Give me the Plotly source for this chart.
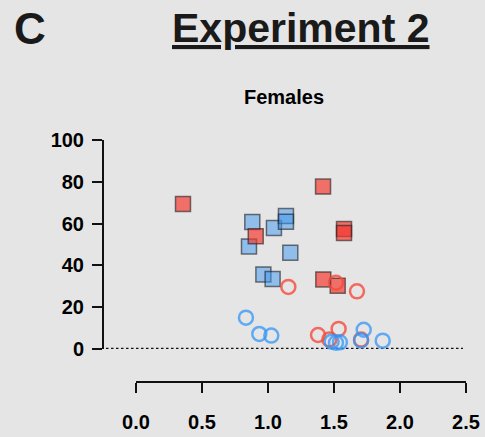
import plotly.graph_objects as go

# Data
red_sq_x = [0.356, 0.907, 1.417, 1.576, 1.576, 1.419, 1.528]
red_sq_y = [69.4, 54.0, 77.7, 57.4, 55.5, 33.3, 30.3]

blue_sq_x = [0.881, 0.856, 1.045, 1.136, 1.136, 1.169, 0.965, 1.035]
blue_sq_y = [60.8, 49.1, 57.9, 63.6, 60.9, 46.1, 35.7, 33.5]

red_ci_x = [1.154, 1.515, 1.674, 1.379, 1.465, 1.535, 1.705]
red_ci_y = [29.7, 31.7, 27.6, 6.7, 4.6, 9.6, 4.5]

blue_ci_x = [0.833, 0.934, 1.025, 1.482, 1.515, 1.545, 1.725, 1.705, 1.869]
blue_ci_y = [15.0, 7.2, 6.4, 3.5, 3.0, 3.2, 9.2, 4.1, 4.0]

x_ticks = [0.0, 0.5, 1.0, 1.5, 2.0, 2.5]
y_ticks = [0, 20, 40, 60, 80, 100]

W, H = 485, 437
L, R, T, B = 103, 466, 140, 382
PW, PH = R - L, B - T

def px(xp):
    return (xp - L) / PW

def py(yp):
    return (B - yp) / PH

FONT = "Liberation Sans, Arial, sans-serif"

fig = go.Figure()
fig.add_trace(go.Scatter(
    x=blue_sq_x, y=blue_sq_y, mode="markers", cliponaxis=False,
    marker=dict(symbol="square", size=15, color="rgba(60,150,240,0.5)",
                line=dict(color="rgba(30,30,30,0.6)", width=1.5))))
fig.add_trace(go.Scatter(
    x=red_sq_x, y=red_sq_y, mode="markers", cliponaxis=False,
    marker=dict(symbol="square", size=15, color="rgba(245,55,45,0.68)",
                line=dict(color="rgba(30,30,30,0.6)", width=1.5))))
fig.add_trace(go.Scatter(
    x=red_ci_x, y=red_ci_y, mode="markers", cliponaxis=False,
    marker=dict(symbol="circle-open", size=14,
                color="rgba(245,75,60,0.8)",
                line=dict(color="rgba(245,75,60,0.8)", width=2.5))))
fig.add_trace(go.Scatter(
    x=blue_ci_x, y=blue_ci_y, mode="markers", cliponaxis=False,
    marker=dict(symbol="circle-open", size=14,
                color="rgba(50,150,245,0.75)",
                line=dict(color="rgba(50,150,245,0.75)", width=2.5))))

# dotted zero line
fig.add_shape(type="line", xref="paper", yref="y", x0=px(106), x1=px(463), y0=0, y1=0,
              line=dict(color="#111", width=2.5, dash="2.5px,2.5px"), layer="below")

fig.add_annotation(text="<b>C</b>", xref="paper", yref="paper", x=px(30), y=py(28),
                   xanchor="center", yanchor="middle", showarrow=False,
                   font=dict(family=FONT, size=44, color="#1a1a1a"))
fig.add_annotation(text="<b><u>Experiment 2</u></b>", xref="paper", yref="paper",
                   x=px(301), y=py(28), xanchor="center", yanchor="middle", showarrow=False,
                   font=dict(family=FONT, size=41, color="#1a1a1a"))
fig.add_annotation(text="<b>Females</b>", xref="paper", yref="paper",
                   x=px(284), y=py(97), xanchor="center", yanchor="middle", showarrow=False,
                   font=dict(family=FONT, size=20, color="#000"))

fig.update_layout(
    width=W, height=H,
    margin=dict(l=L, r=W - R, t=T, b=H - B, pad=0, autoexpand=False),
    paper_bgcolor="#E5E5E5", plot_bgcolor="#E5E5E5",
    showlegend=False,
    xaxis=dict(domain=[px(136), 1], range=[0, 2.5], anchor="free", position=0,
               automargin=False,
               tickvals=x_ticks, ticktext=[f"{v:.1f}" for v in x_ticks],
               showgrid=False, zeroline=False, showline=True, linecolor="#111", linewidth=2,
               ticks="outside", ticklen=10, tickwidth=2, tickcolor="#111",
               tickfont=dict(family=FONT, size=20, color="#000", weight="bold"),
               ticklabelstandoff=12),
    yaxis=dict(domain=[py(349), 1], range=[0, 100], anchor="free", position=0,
               automargin=False,
               tickvals=y_ticks,
               showgrid=False, zeroline=False, showline=True, linecolor="#111", linewidth=2,
               ticks="outside", ticklen=10, tickwidth=2, tickcolor="#111",
               tickfont=dict(family=FONT, size=20, color="#000", weight="bold"),
               ticklabelstandoff=4),
)

fig.write_html("out.html")
